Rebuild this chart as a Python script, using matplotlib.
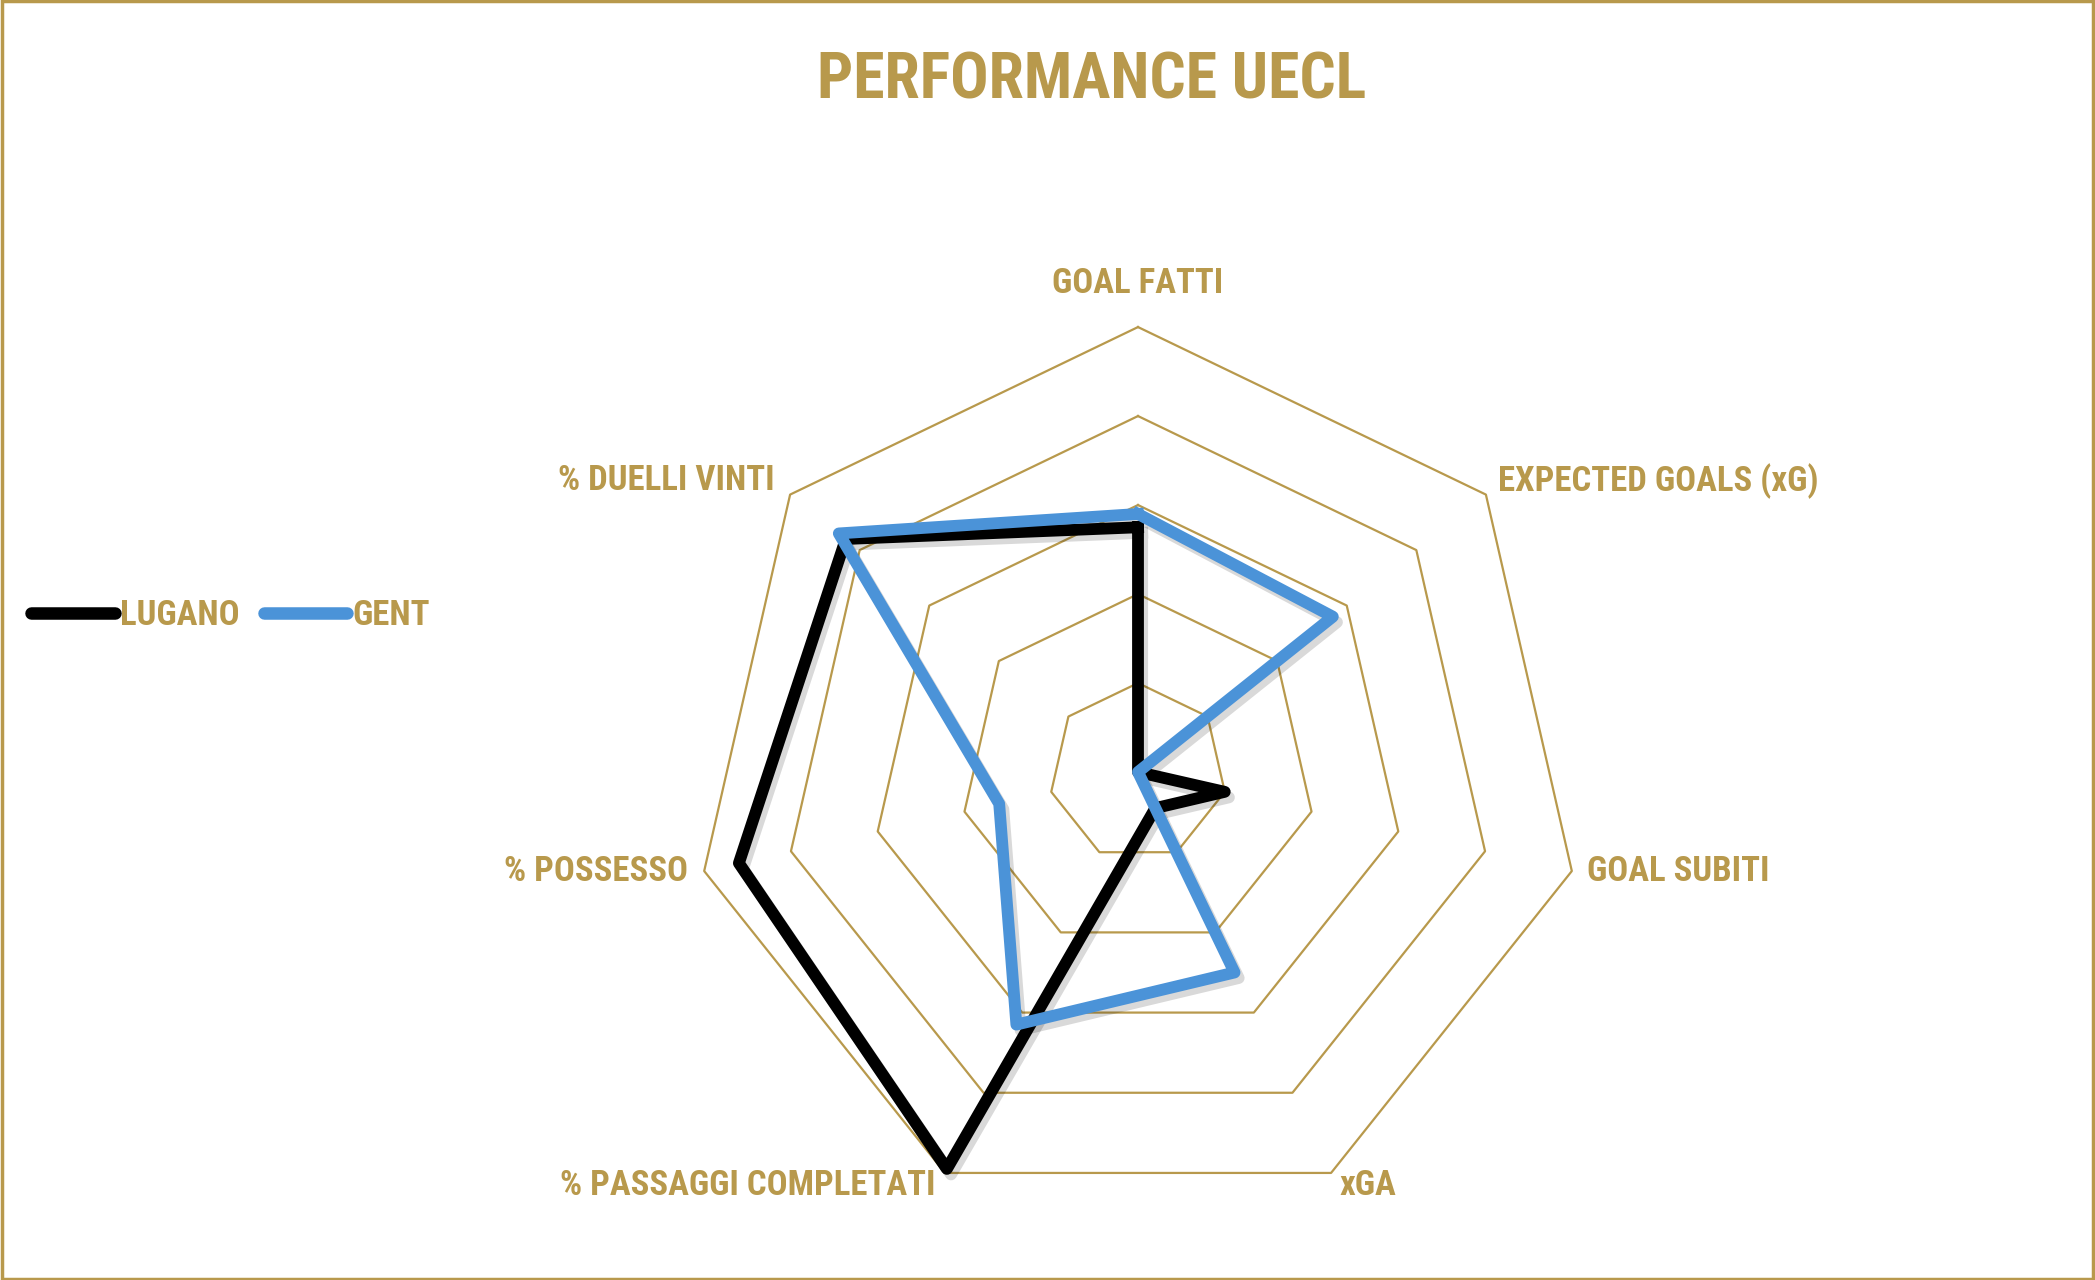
import numpy as np
import matplotlib
matplotlib.use("Agg")
import matplotlib.pyplot as plt
from matplotlib import font_manager
from matplotlib.lines import Line2D
from matplotlib.patches import Rectangle
import matplotlib.patheffects as pe

# axis categories (clockwise from top)
categories = ["GOAL FATTI", "EXPECTED GOALS (xG)", "GOAL SUBITI", "xGA",
              "% PASSAGGI COMPLETATI", "% POSSESSO", "% DUELLI VINTI"]

# values on a 0-1 scale
lugano = [0.55, 0.0, 0.20, 0.09, 0.99, 0.92, 0.84]
gent = [0.58, 0.56, 0.0, 0.50, 0.63, 0.32, 0.86]

series_names = ["LUGANO", "GENT"]
ring_levels = [0.2, 0.4, 0.6, 0.8, 1.0]

GOLD = "#B8994C"
BLUE = "#4B93D8"
BLACK = "#000000"

# pick a narrow bold face if one is around
fonts = font_manager.fontManager.ttflist
names = {f.name for f in fonts}
font_kw = {"family": "DejaVu Sans"}
if "Roboto Condensed" in names:
    font_kw = {"family": "Roboto Condensed"}
elif "Liberation Sans Narrow" in names:
    font_kw = {"family": "Liberation Sans Narrow"}
elif any(f.name == "DejaVu Sans" and f.stretch == "condensed" for f in fonts):
    font_kw = {"family": "DejaVu Sans", "stretch": "condensed"}

fig = plt.figure(figsize=(20.95, 12.8), dpi=100)
fig.patch.set_facecolor("white")

# border round the whole picture
fig.patches.append(Rectangle((0.001, 0.001), 0.998, 0.998, transform=fig.transFigure,
                             fill=False, edgecolor=GOLD, linewidth=2.5))

ax = fig.add_axes([0.3308, 0.0492, 0.4248, 0.6953], projection="polar")
ax.set_theta_offset(np.pi / 2)
ax.set_theta_direction(-1)
ax.set_ylim(0, 1)
ax.set_axis_off()

n = len(categories)
theta = np.linspace(0, 2 * np.pi, n, endpoint=False)
theta_c = np.append(theta, theta[0])

for r in ring_levels:
    ax.plot(theta_c, [r] * (n + 1), color=GOLD, lw=1.6, clip_on=False, zorder=1)

shadow = [pe.SimpleLineShadow(offset=(3, -4), shadow_color="black", alpha=0.15),
          pe.Normal()]
for vals, col in [(lugano, BLACK), (gent, BLUE)]:
    v = np.append(vals, vals[0])
    ax.plot(theta_c, v, color=col, lw=8.5, solid_joinstyle="round",
            clip_on=False, zorder=3, path_effects=shadow)

# label offsets in points and alignment for each axis
offsets = [(0, 31), (9, 10), (11, 0), (6, -9), (-7, -9), (-12, 0), (-11, 10)]
aligns = ["center", "left", "left", "left", "right", "right", "right"]
for t, lab, off, ha in zip(theta, categories, offsets, aligns):
    ax.annotate(lab, xy=(t, 1.0), xytext=off, textcoords="offset points",
                ha=ha, va="center", color=GOLD, fontsize=25, fontweight="bold",
                annotation_clip=False, **font_kw)

fig.text(0.521, 0.937, "PERFORMANCE UECL", ha="center", va="center",
         color=GOLD, fontsize=46, fontweight="bold", **font_kw)

handles = [Line2D([], [], color=BLACK, lw=9, solid_capstyle="round"),
           Line2D([], [], color=BLUE, lw=9, solid_capstyle="round")]
leg = fig.legend(handles, series_names, loc="center left",
                 bbox_to_anchor=(0.015, 0.519), ncol=2, frameon=False,
                 handlelength=2.4, handletextpad=0.15, columnspacing=0.7,
                 borderpad=0, borderaxespad=0,
                 prop=dict(size=25, weight="bold", **font_kw))
for txt in leg.get_texts():
    txt.set_color(GOLD)

fig.savefig("out.png", dpi=100, facecolor="white")
